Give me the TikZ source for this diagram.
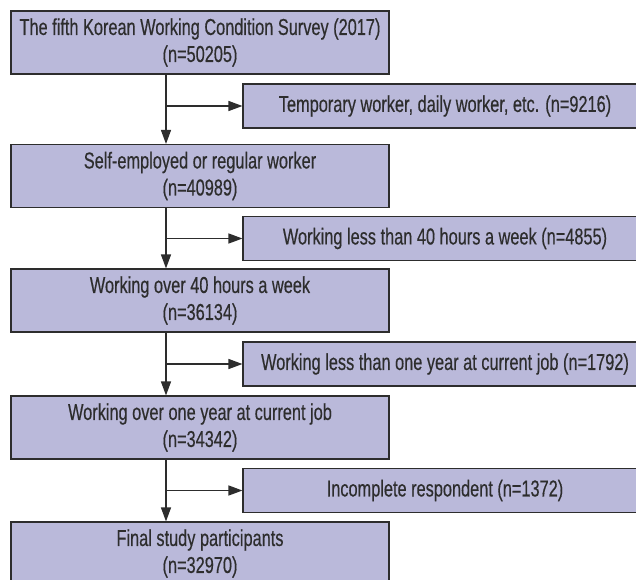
\documentclass[tikz,border=0pt]{standalone}
\usepackage{fontspec}
\setmainfont{Liberation Sans}[FakeStretch=0.71,FakeBold=0.4]
\usetikzlibrary{arrows.meta}
\definecolor{boxfill}{RGB}{186,185,218}
\definecolor{ink}{RGB}{45,45,45}
\begin{document}
\begin{tikzpicture}[x=1pt,y=-1pt,
  mainbox/.style={draw=ink,line width=1.1pt,fill=boxfill,minimum width=378pt,minimum height=63pt,
    inner sep=0pt,align=center,text=ink,font=\fontsize{23}{27}\selectfont},
  sidebox/.style={draw=ink,line width=1.1pt,fill=boxfill,minimum width=440pt,minimum height=44pt,
    inner sep=0pt,text=ink,font=\fontsize{23}{27}\selectfont},
  flow/.style={draw=ink,line width=1.3pt,-{Triangle[length=14pt,width=10pt]}}]
\useasboundingbox (0,0) rectangle (636,579);
\node[mainbox] (b1) at (200,42.5) {The fifth Korean Working Condition Survey (2017)\\(n=50205)};
\node[mainbox] (b2) at (200,176) {Self-employed or regular worker\\(n=40989)};
\node[mainbox] (b3) at (200,300.5) {Working over 40 hours a week\\(n=36134)};
\node[mainbox] (b4) at (200,427.5) {Working over one year at current job\\(n=34342)};
\node[mainbox] (b5) at (200,553.5) {Final study participants\\(n=32970)};
\node[sidebox] (s1) at (463,106) {\hspace*{-36pt}Temporary worker, daily worker, etc. (n=9216)};
\node[sidebox] (s2) at (463,238.5) {\hspace*{-36pt}Working less than 40 hours a week (n=4855)};
\node[sidebox] (s3) at (463,364) {\hspace*{-36pt}Working less than one year at current job (n=1792)};
\node[sidebox] (s4) at (463,490.5) {\hspace*{-36pt}Incomplete respondent (n=1372)};
\coordinate (v) at (166,0);
\draw[flow] (b1.south -| v) -- (b2.north -| v);
\draw[flow] (b2.south -| v) -- (b3.north -| v);
\draw[flow] (b3.south -| v) -- (b4.north -| v);
\draw[flow] (b4.south -| v) -- (b5.north -| v);
\draw[flow] (v |- s1.west) -- (s1.west);
\draw[flow] (v |- s2.west) -- (s2.west);
\draw[flow] (v |- s3.west) -- (s3.west);
\draw[flow] (v |- s4.west) -- (s4.west);
\end{tikzpicture}
\end{document}
